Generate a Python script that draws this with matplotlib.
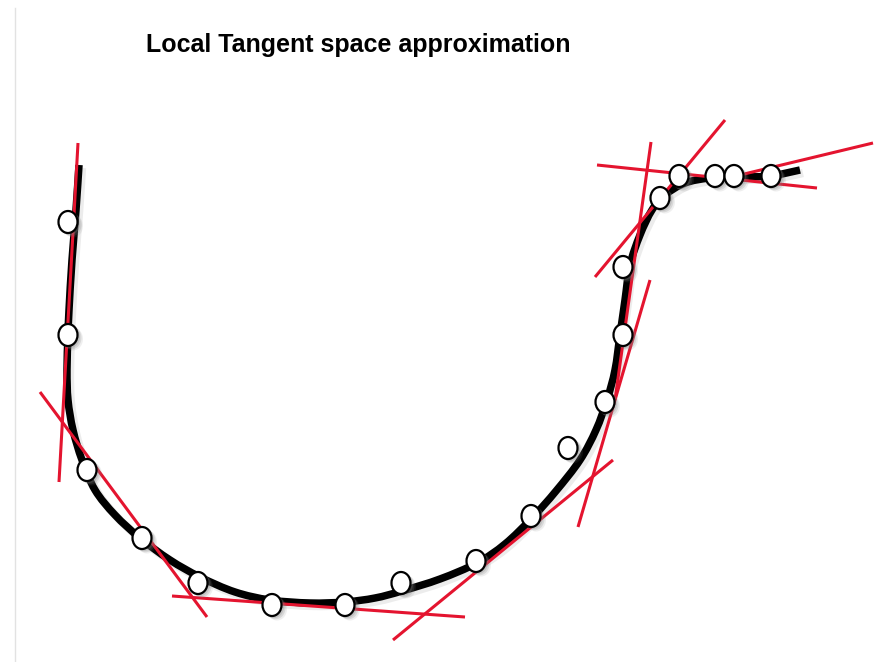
import numpy as np
import matplotlib
matplotlib.use("Agg")
from matplotlib import pyplot as plt
from matplotlib.patches import Ellipse, PathPatch
from matplotlib.path import Path

# black manifold curve (pixel coords, y down)
curve_x = [79, 76, 72, 69, 68, 67, 68, 73, 82, 95, 115, 140, 170, 200, 235, 270,
           310, 345, 375, 402, 440, 477, 505, 532, 556, 580, 596, 607, 615, 620,
           625, 630, 640, 652, 665, 685, 710, 740, 770, 800]
curve_y = [165, 210, 260, 310, 335, 370, 400, 430, 460, 490, 515, 538, 560, 577,
           592, 600, 603, 602, 598, 591, 579, 563, 544, 518, 491, 460, 430, 400,
           370, 335, 300, 265, 235, 210, 195, 183, 178, 177, 176, 170]

# sample points
pts_x = [68, 68, 87, 142, 198, 272, 345, 401, 476, 531, 568, 605, 623, 623,
         660, 679, 715, 734, 771]
pts_y = [222, 335, 470, 538, 583, 605, 605, 583, 561, 516, 448, 402, 335, 267,
         198, 176, 176, 176, 176]

# local tangent lines: (x0, y0, x1, y1)
tangents = [
    (78, 143, 59, 482),
    (40, 392, 207, 617),
    (172, 596, 465, 617),
    (393, 640, 613, 460),
    (578, 527, 650, 280),
    (651, 142, 615, 400),
    (595, 277, 725, 120),
    (597, 165, 817, 188),
    (740, 175, 873, 143),
]

title = "Local Tangent space approximation"


def smooth_path(xs, ys, dx=0, dy=0):
    # bezier through every point (catmull-rom style handles)
    p = np.column_stack([xs, ys]).astype(float) + [dx, dy]
    verts = [p[0]]
    codes = [Path.MOVETO]
    for i in range(len(p) - 1):
        p0 = p[max(i - 1, 0)]
        p1, p2 = p[i], p[i + 1]
        p3 = p[min(i + 2, len(p) - 1)]
        verts += [p1 + (p2 - p0) / 6., p2 - (p3 - p1) / 6., p2]
        codes += [Path.CURVE4] * 3
    return Path(verts, codes)


def main():
    fig = plt.figure(figsize=(8.79, 6.62), dpi=100)
    ax = fig.add_axes([0, 0, 1, 1])
    ax.set_xlim(0, 879)
    ax.set_ylim(662, 0)
    ax.axis('off')

    ax.plot([15, 15], [8, 662], color='#e2e2e2', lw=1)

    ax.add_patch(PathPatch(smooth_path(curve_x, curve_y, 3, 3), fill=False,
                           edgecolor='gray', lw=6, alpha=0.15, zorder=1))
    ax.add_patch(PathPatch(smooth_path(curve_x, curve_y), fill=False,
                           edgecolor='black', lw=5.4, capstyle='butt',
                           joinstyle='round', zorder=2))

    for x0, y0, x1, y1 in tangents:
        ax.plot([x0, x1], [y0, y1], color='#e4142f', lw=2.2,
                solid_capstyle='butt', zorder=3)

    for x, y in zip(pts_x, pts_y):
        for k, a in [(5, 0.12), (3.5, 0.2), (2, 0.25)]:
            ax.add_patch(Ellipse((x + k, y + k * 0.8), 20, 23, color='gray',
                                 alpha=a, lw=0, zorder=4))
        ax.add_patch(Ellipse((x, y), 19, 22, facecolor='white',
                             edgecolor='black', lw=1.6, zorder=5))

    ax.text(358, 45, title, ha='center', va='center', fontsize=18,
            fontweight='bold', family=['Liberation Sans', 'DejaVu Sans'])

    fig.savefig("out.png", dpi=100)


if __name__ == "__main__":
    main()
